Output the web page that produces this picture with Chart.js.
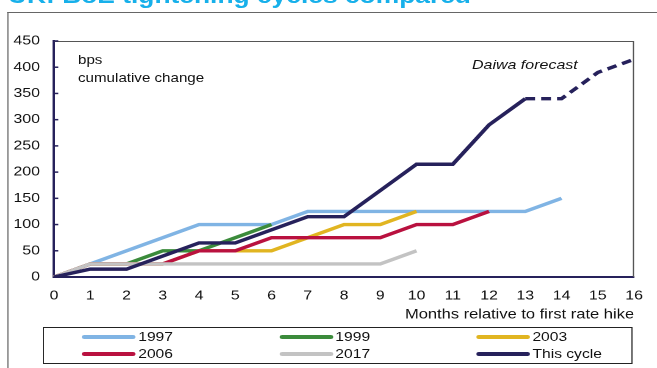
<!DOCTYPE html>
<html>
<head>
<meta charset="utf-8">
<script src="https://cdn.jsdelivr.net/npm/chart.js@4"></script>
<style>
  html, body { margin: 0; padding: 0; background: #fff; }
  body { width: 657px; height: 368px; position: relative; overflow: hidden; font-family: "Liberation Sans", Arial, sans-serif; }
  /* the original picture is stretched sideways, so the whole stage is too */
  #stage { position: absolute; left: 0; top: 0; width: 538px; height: 368px; transform: scaleX(1.2212); transform-origin: 0 0; }
  #title { position: absolute; left: 6.5px; top: -15px; font-size: 21.6px; line-height: 22px; font-weight: bold; color: #17b0ea; white-space: nowrap; }
  #frame { position: absolute; left: 5.7px; top: 12px; width: 700px; height: 400px; border-left: 1.3px solid #666; border-top: 1.5px solid #666; }
  #chart { position: absolute; left: 0; top: 0; width: 538px; height: 368px; }
  .note { position: absolute; color: #111; white-space: nowrap; }
  #legend { position: absolute; left: 35.2px; top: 327px; width: 481px; height: 35px; border: 1px solid #222; }
  .item { position: absolute; font-size: 12.8px; line-height: 16px; color: #111; white-space: nowrap; }
  .item span.s { position: absolute; top: 6px; height: 4px; width: 44px; border-radius: 2px; }
  .item span.t { position: absolute; left: 46px; top: 0; }
</style>
</head>
<body>
<div id="stage">
  <div id="title">UK: BoE tightening cycles compared</div>
  <div id="frame"></div>
  <canvas id="chart" width="538" height="368"></canvas>
  <div class="note" style="left:63.9px; top:52px; font-size:12.4px; line-height:16px;">bps</div>
  <div class="note" style="left:63.9px; top:70px; font-size:12.4px; line-height:16px;">cumulative change</div>
  <div class="note" style="left:386.5px; top:57px; font-size:13.1px; line-height:16px; font-style:italic;">Daiwa forecast</div>
  <div id="legend"></div>
</div>
<script>
// months after first hike
var months = ['0','1','2','3','4','5','6','7','8','9','10','11','12','13','14','15','16'];
var yTicks = [0, 50, 100, 150, 200, 250, 300, 350, 400, 450];

// cumulative change, bps
var cycle1997 = [0, 25, 50, 75, 100, 100, 100, 125, 125, 125, 125, 125, 125, 125, 150, null, null];
var cycle1999 = [0, 25, 25, 50, 50, 75, 100, null, null, null, null, null, null, null, null, null, null];
var cycle2003 = [0, 25, 25, 25, 50, 50, 50, 75, 100, 100, 125, null, null, null, null, null, null];
var cycle2006 = [0, 25, 25, 25, 50, 50, 75, 75, 75, 75, 100, 100, 125, null, null, null, null];
var cycle2017 = [0, 25, 25, 25, 25, 25, 25, 25, 25, 25, 50, null, null, null, null, null, null];
var thisCycle = [0, 15, 15, 40, 65, 65, 90, 115, 115, 165, 215, 215, 290, 340, 340, 390, 415];
var forecastFrom = 13;

var names = ['1997', '1999', '2003', '2006', '2017', 'This cycle'];
var colors = ['#80b4e4', '#3b8b3b', '#e1b521', '#b9113f', '#c3c3c3', '#26215b'];
var series = [cycle1997, cycle1999, cycle2003, cycle2006, cycle2017, thisCycle];
var navy = '#26215b';
var font = 'Liberation Sans';

var datasets = series.map(function (vals, i) {
    var ds = {
        label: names[i],
        data: vals,
        borderColor: colors[i],
        backgroundColor: colors[i],
        borderWidth: 3.4,
        pointRadius: 0,
        pointHoverRadius: 0,
        tension: 0,
        spanGaps: false,
        order: series.length - i
    };
    if (i === series.length - 1) {
        ds.segment = {
            borderDash: function (ctx) { return ctx.p0DataIndex >= forecastFrom ? [8, 5] : undefined; }
        };
    }
    return ds;
});

// plot frame + small inner y ticks
var framePlugin = {
    id: 'frame',
    afterDraw: function (chart) {
        var a = chart.chartArea, c = chart.ctx, y = chart.scales.y;
        c.save();
        c.strokeStyle = '#555';
        c.lineWidth = 1;
        c.beginPath();
        c.moveTo(a.left, a.top + 0.5);
        c.lineTo(a.right - 0.5, a.top + 0.5);
        c.lineTo(a.right - 0.5, a.bottom);
        c.stroke();
        c.strokeStyle = navy;
        c.lineWidth = 1.5;
        yTicks.forEach(function (v) {
            var py = y.getPixelForValue(v);
            c.beginPath();
            c.moveTo(a.left, py);
            c.lineTo(a.left + 3.5, py);
            c.stroke();
        });
        c.restore();
    }
};

new Chart(document.getElementById('chart'), {
    type: 'line',
    data: { labels: months, datasets: datasets },
    options: {
        responsive: false,
        animation: false,
        devicePixelRatio: 2,
        layout: { padding: { left: 0, right: 18.8, top: 41, bottom: 45 } },
        plugins: { legend: { display: false }, tooltip: { enabled: false } },
        scales: {
            x: {
                grid: { display: false, drawTicks: false },
                border: { color: navy, width: 2 },
                ticks: { color: '#111', font: { family: font, size: 13 }, padding: 11, maxRotation: 0, autoSkip: false },
                title: { display: true, text: 'Months relative to first rate hike', align: 'end', color: '#111', font: { family: font, size: 13.5 }, padding: 0 },
                afterFit: function (s) { s.height = 46; }
            },
            y: {
                min: 0,
                max: 450,
                afterBuildTicks: function (s) { s.ticks = yTicks.map(function (v) { return { value: v }; }); },
                grid: { display: false, drawTicks: false },
                border: { color: navy, width: 2 },
                ticks: { color: '#111', font: { family: font, size: 13 }, padding: 11.5 },
                afterFit: function (s) { s.width = 44.2; }
            }
        }
    },
    plugins: [framePlugin]
});

// legend, 3 columns x 2 rows
var legendCols = [31, 192.4, 353.8];
var legendRows = [1, 18];
var legend = document.getElementById('legend');
names.forEach(function (n, i) {
    var it = document.createElement('div');
    it.className = 'item';
    it.style.left = legendCols[i % 3] + 'px';
    it.style.top = legendRows[Math.floor(i / 3)] + 'px';
    it.innerHTML = '<span class="s" style="background:' + colors[i] + '"></span><span class="t">' + n + '</span>';
    legend.appendChild(it);
});
</script>
</body>
</html>
